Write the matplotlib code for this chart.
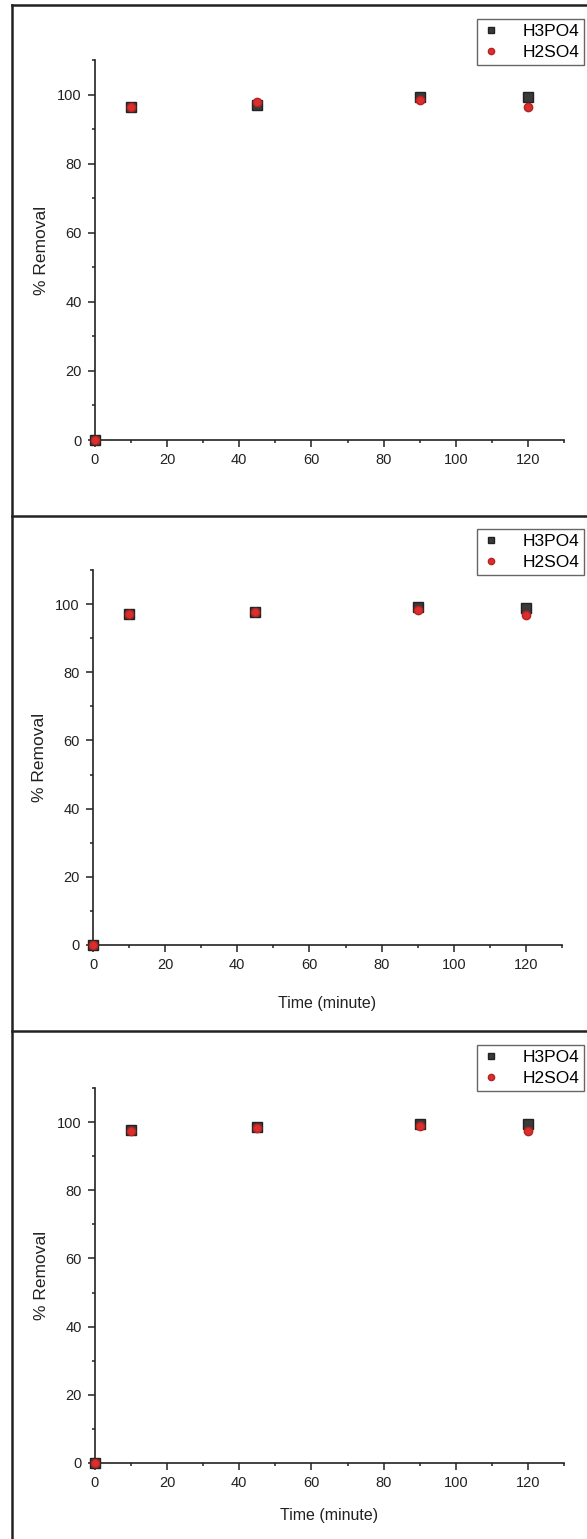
import matplotlib
matplotlib.use("Agg")
import matplotlib.pyplot as plt
from matplotlib.lines import Line2D
from matplotlib.ticker import MultipleLocator

plt.rcParams['font.family'] = ['Liberation Sans', 'DejaVu Sans']

W, H = 587, 1539

time_min = [0, 10, 45, 90, 120]
# % removal, one list per panel
h3po4 = [
    [0, 96.4, 97.0, 99.2, 99.4],
    [0, 97.1, 97.7, 99.2, 99.0],
    [0, 97.8, 98.6, 99.5, 99.4],
]
h2so4 = [
    [0, 96.5, 97.8, 98.4, 96.4],
    [0, 97.1, 97.6, 98.3, 96.8],
    [0, 97.5, 98.2, 99.0, 97.4],
]
series_names = ['H3PO4', 'H2SO4']
x_label = 'Time (minute)'
y_label = '% Removal'

# panel layout in pixels: left, right, top (y=110), bottom (y=0), legend top, xlabel pad
panels = [
    (95, 564, 60, 440, 19, None),
    (93, 562, 570, 945, 529, 17),
    (95, 564, 1088, 1463, 1045, 13),
]

fig = plt.figure(figsize=(W / 100, H / 100), dpi=100)
ink = '#222222'

# panel frames
for y in [5, 516, 1031]:
    fig.add_artist(Line2D([12 / W, 1], [1 - y / H, 1 - y / H], color=ink, lw=1.8,
                          transform=fig.transFigure))
fig.add_artist(Line2D([12 / W, 12 / W], [1 - 5 / H, 0], color=ink, lw=1.8,
                      transform=fig.transFigure))

for i, (l, r, t, b, leg_top, xpad) in enumerate(panels):
    ax = fig.add_axes([l / W, 1 - b / H, (r - l) / W, (b - t) / H])
    ax.plot(time_min, h3po4[i], 's', color='#3a3a3a', mec='#222222', ms=6.5,
            label=series_names[0], clip_on=False, zorder=3)
    ax.plot(time_min, h2so4[i], 'o', color='#d8302e', mec='#b82220', ms=6,
            label=series_names[1], clip_on=False, zorder=4)
    ax.set_xlim(0, 130)
    ax.set_ylim(0, 110)
    ax.set_xticks([0, 20, 40, 60, 80, 100, 120])
    ax.set_yticks([0, 20, 40, 60, 80, 100])
    ax.xaxis.set_minor_locator(MultipleLocator(10))
    ax.yaxis.set_minor_locator(MultipleLocator(10))
    for s in ['top', 'right']:
        ax.spines[s].set_visible(False)
    for s in ['left', 'bottom']:
        ax.spines[s].set_color(ink)
        ax.spines[s].set_linewidth(1.2)
    ax.tick_params(which='major', direction='out', length=5, width=1.1, color=ink,
                   labelsize=10.5, labelcolor=ink, pad=4.5)
    ax.tick_params(which='minor', direction='out', length=2.5, width=1.1, color=ink)
    ax.set_ylabel(y_label, fontsize=12.5, color=ink, labelpad=6)
    if xpad is not None:
        ax.set_xlabel(x_label, fontsize=11.5, color=ink, labelpad=xpad)
    ax.legend(loc='upper left', bbox_to_anchor=(477 / W, 1 - leg_top / H),
              bbox_transform=fig.transFigure, fontsize=12.5, frameon=True,
              fancybox=False, edgecolor='#666666', framealpha=1, markerscale=0.75,
              handlelength=1.0, handletextpad=1.3, labelspacing=0.3,
              borderpad=0.3, borderaxespad=0)

fig.savefig('out.png', dpi=100)
